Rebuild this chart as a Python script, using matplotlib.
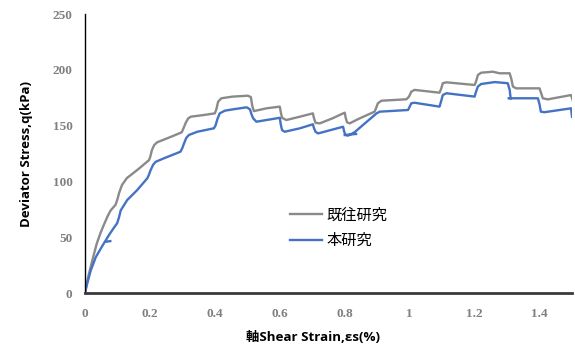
import numpy as np
import matplotlib
matplotlib.use("Agg")
import matplotlib.pyplot as plt

# Shear strain (%) and deviator stress (kPa) for the two test series
prev_strain = [0, 0.006, 0.012, 0.025, 0.036, 0.048, 0.058, 0.07, 0.079, 0.094, 0.1,
               0.105, 0.114, 0.129, 0.16, 0.197, 0.201, 0.206, 0.213, 0.222, 0.265,
               0.298, 0.304, 0.311, 0.318, 0.326, 0.366, 0.4, 0.405, 0.41, 0.42,
               0.455, 0.502, 0.511, 0.515, 0.52, 0.559, 0.6, 0.603, 0.607, 0.62,
               0.662, 0.702, 0.705, 0.71, 0.723, 0.762, 0.8, 0.803, 0.807, 0.815,
               0.846, 0.892, 0.897, 0.902, 0.913, 0.99, 0.998, 1.005, 1.015, 1.092,
               1.097, 1.102, 1.113, 1.2, 1.205, 1.21, 1.22, 1.256, 1.277, 1.308,
               1.313, 1.318, 1.328, 1.4, 1.405, 1.41, 1.425, 1.497, 1.505]
prev_stress = [0, 9, 17, 32, 44, 54, 61, 69, 74, 79, 84,
               89.6, 96.8, 103, 110, 119, 122, 128, 132.5, 135, 140,
               144, 148, 153, 156.5, 158, 159.5, 161, 165, 171.4, 174.5,
               176, 176.8, 175.5, 168, 163, 165.5, 167, 162, 157, 155,
               158, 161, 157, 152.5, 152, 156.5, 161.6, 157, 153, 152,
               156.5, 162.5, 166, 170, 172.3, 173.6, 176, 180.4, 182, 179.5,
               183, 188, 188.8, 186.4, 190, 195.3, 197.4, 198.3, 196.9, 196.9,
               192, 185, 183.4, 183.4, 179, 174.5, 173.5, 177.4, 170]

this_strain = [0, 0.003, 0.007, 0.0175, 0.033, 0.053, 0.074, 0.088, 0.099, 0.105,
               0.11, 0.13, 0.161, 0.192, 0.197, 0.202, 0.21, 0.218, 0.243, 0.294,
               0.3, 0.305, 0.312, 0.32, 0.346, 0.397, 0.402, 0.408, 0.415, 0.431,
               0.456, 0.498, 0.508, 0.513, 0.518, 0.528, 0.6, 0.603, 0.607, 0.615,
               0.662, 0.702, 0.705, 0.71, 0.718, 0.795, 0.798, 0.802, 0.81, 0.83,
               0.898, 0.908, 0.995, 1.0, 1.005, 1.015, 1.092, 1.097, 1.102, 1.113,
               1.2, 1.204, 1.21, 1.22, 1.262, 1.302, 1.308, 1.311, np.nan,
               1.305, 1.395, 1.4, 1.404, 1.415, 1.497, 1.5,
               np.nan, 0.066, 0.078, np.nan, 0.8, 0.835]
this_stress = [0, 4, 8.7, 20, 32, 42, 52, 58, 62.5, 68,
               74, 83.3, 92.3, 102.8, 106, 110, 115, 117.6, 120.7, 126.6,
               130, 134, 139, 141.6, 144.5, 147.6, 150, 156, 161, 163.4,
               164.6, 166.4, 164.6, 160, 156.5, 153.5, 157, 151, 146, 144.5,
               147.6, 151.2, 148, 144.5, 143, 149, 145, 141.6, 141, 144,
               161, 162.5, 164, 167, 170, 170.5, 167, 172, 177.4, 179,
               176, 180, 185, 187.3, 189, 188, 182, 174.5, np.nan,
               174.5, 174.5, 169, 162.5, 162, 165.5, 158,
               np.nan, 46, 46.5, np.nan, 141.6, 142.5]

series_labels = ["既往研究", "本研究"]
x_ticks = [0, 0.2, 0.4, 0.6, 0.8, 1.0, 1.2, 1.4]
x_tick_labels = ["0", "0.2", "0.4", "0.6", "0.8", "1", "1.2", "1.4"]
y_ticks = [0, 50, 100, 150, 200, 250]

fig = plt.figure(figsize=(5.75, 3.47), dpi=100)
ax = fig.add_axes([0.1478, 0.1556, 0.847, 0.804])

ax.plot(prev_strain, prev_stress, color="#8a8a8a", lw=1.7, label=series_labels[0],
        solid_joinstyle="round")
ax.plot(this_strain, this_stress, color="#4472c4", lw=1.7, label=series_labels[1],
        solid_joinstyle="round")

ax.set_xlim(0, 1.5)
ax.set_ylim(0, 250)
ax.set_xticks(x_ticks)
ax.set_xticklabels(x_tick_labels)
ax.set_yticks(y_ticks)

for lab in ax.get_xticklabels() + ax.get_yticklabels():
    lab.set_fontfamily("Liberation Serif")
    lab.set_fontweight("bold")
    lab.set_fontsize(9.5)
    lab.set_color("#7f7f7f")
ax.tick_params(axis="both", length=0)
ax.tick_params(axis="x", pad=11)
ax.tick_params(axis="y", pad=9)

for side in ("top", "right"):
    ax.spines[side].set_visible(False)
ax.spines["left"].set_color("#000000")
ax.spines["left"].set_linewidth(1.0)
ax.spines["bottom"].set_color("#3a3a3a")
ax.spines["bottom"].set_linewidth(2.0)

label_family = ["Open Sans", "Noto Sans CJK JP"]
ax.set_xlabel("軸Shear Strain,εs(%)", family=label_family, weight="bold",
              fontsize=9.6)
ax.xaxis.set_label_coords(0.468, -0.135)
ax.set_ylabel("Deviator Stress,q(kPa)", family=label_family, weight="bold",
              fontsize=9.5, labelpad=14)

leg = ax.legend(loc="upper left", bbox_to_anchor=(0.421, 0.31), frameon=False,
                prop={"family": ["Noto Sans CJK JP"], "size": 11},
                handlelength=2.1, handletextpad=0.3, labelspacing=0.55,
                borderpad=0, borderaxespad=0)

fig.savefig("out.png", dpi=100)
